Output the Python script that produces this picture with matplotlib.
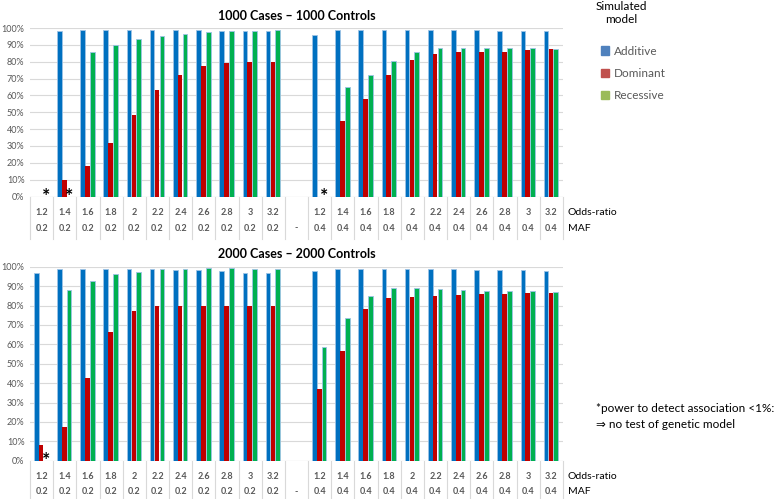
import numpy as np
import matplotlib.pyplot as plt
from matplotlib.patches import Patch

plt.rcParams['font.family'] = ['Lato', 'DejaVu Sans']

odds_ratio = ["1.2", "1.4", "1.6", "1.8", "2", "2.2", "2.4", "2.6", "2.8", "3", "3.2", "",
              "1.2", "1.4", "1.6", "1.8", "2", "2.2", "2.4", "2.6", "2.8", "3", "3.2"]
maf = ["0.2"] * 11 + ["-"] + ["0.4"] * 11

# 1000 cases - 1000 controls (power, %)
add_1000 = [0, 98.5, 99, 99, 99, 99, 99, 99, 98.5, 98.5, 98, 0,
            95.7, 99, 99, 99, 99, 99, 99, 99, 98.5, 98.5, 98]
dom_1000 = [0, 10, 18, 32, 48.5, 63, 72, 77.5, 79.5, 80, 80, 0,
            0, 44.7, 58, 72, 81.3, 84.5, 85.6, 86, 86, 86.8, 87.4]
rec_1000 = [0, 0, 86, 90, 93.5, 95.5, 96.5, 97.5, 98.5, 98.5, 99, 0,
            0, 64.9, 72.4, 80.3, 85.9, 88.4, 88.2, 88.1, 88, 88, 87.4]

# 2000 cases - 2000 controls (power, %)
add_2000 = [96.6, 98.8, 99, 99, 99, 98.7, 98.5, 98.3, 97.7, 97, 96.5, 0,
            97.8, 99, 99, 99, 99, 99, 98.8, 98.5, 98.5, 98.3, 98]
dom_2000 = [8.1, 17.4, 42.5, 66.5, 77.3, 79.7, 80, 80, 80, 80, 80, 0,
            37, 56.5, 78, 83.7, 84.2, 84.7, 85.2, 85.7, 86, 86.5, 86.7]
rec_2000 = [0, 88, 92.6, 96, 97.5, 99, 99, 99.5, 99.5, 99, 99, 0,
            58.8, 73.7, 84.9, 89, 89, 88.5, 88, 87.7, 87.5, 87.5, 87]

# category index marked as not tested (power < 1%)
stars_1000 = [0, 1, 12]
stars_2000 = [0]

c_add, c_dom, c_rec = "#0070C0", "#C00000", "#00B050"
edge = "#9DC3E6"
grey = "#595959"


def panel(ax, add, dom, rec, stars, title, row1, row2, line_bottom, star_y):
    x = np.arange(len(odds_ratio))
    w = 0.2
    ax.bar(x - 0.23, add, w, color=c_add, edgecolor=edge, linewidth=0.6, zorder=3)
    ax.bar(x - 0.02, dom, w, color=c_dom, linewidth=0, zorder=3)
    ax.bar(x + 0.19, rec, w, color=c_rec, edgecolor=edge, linewidth=0.6, zorder=3)
    ax.set_xlim(-0.5, len(x) - 0.5)
    ax.set_ylim(0, 100)
    ax.set_yticks(np.arange(0, 101, 10))
    ax.set_yticklabels([f"{v}%" for v in range(0, 101, 10)])
    ax.tick_params(axis="y", length=0, pad=4, labelsize=6.5, labelcolor=grey)
    ax.set_xticks([])
    ax.grid(axis="y", color="#D9D9D9", linewidth=0.8, zorder=0)
    for s in ax.spines.values():
        s.set_visible(False)
    ax.axhline(0, color="#D9D9D9", linewidth=0.8, zorder=1)
    ax.set_title(title, fontsize=9, fontweight="bold", pad=6)

    trans = ax.get_xaxis_transform()
    for b in np.arange(-0.5, len(x), 1.0):
        ax.plot([b, b], [0, line_bottom], color="#D9D9D9", linewidth=0.8,
                transform=trans, clip_on=False)
    for i in x:
        ax.text(i, row1, odds_ratio[i], transform=trans, ha="center", va="center",
                fontsize=6.5, color=grey, fontweight="bold")
        ax.text(i, row2, maf[i], transform=trans, ha="center", va="center",
                fontsize=6.5, color=grey, fontweight="bold")
    ax.text(len(x) - 0.3, row1, "Odds-ratio", transform=trans, ha="left", va="center",
            fontsize=7.5, color="black")
    ax.text(len(x) - 0.3, row2, "MAF", transform=trans, ha="left", va="center",
            fontsize=7.5, color="black")
    for i in stars:
        ax.text(i + 0.2, star_y, "*", ha="center", va="baseline", fontsize=14,
                fontweight="bold", color="black", zorder=4, clip_on=False)


fig = plt.figure(figsize=(7.79, 4.99), dpi=100)
ax1 = fig.add_axes([30 / 779, 302.5 / 499, 533 / 779, 168.5 / 499])
ax2 = fig.add_axes([30 / 779, 38.3 / 499, 533 / 779, 194 / 499])

panel(ax1, add_1000, dom_1000, rec_1000, stars_1000, "1000 Cases \u2013 1000 Controls",
      -0.092, -0.187, -0.25, -3.0)
panel(ax2, add_2000, dom_2000, rec_2000, stars_2000, "2000 Cases \u2013 2000 Controls",
      -0.084, -0.161, -0.2, -2.6)

fig.text(621 / 779, 1 - 13 / 499, "Simulated\nmodel", ha="center", va="center",
         fontsize=8.5, color="black", linespacing=1.15)
handles = [Patch(color="#4F81BD"), Patch(color="#C0504D"), Patch(color="#9BBB59")]
fig.legend(handles, ["Additive", "Dominant", "Recessive"], loc="upper left",
           bbox_to_anchor=(590 / 779, 1 - 35 / 499), frameon=False, fontsize=8.5,
           labelcolor=grey, handlelength=0.7, handleheight=0.7, handletextpad=0.4,
           labelspacing=0.95)

fig.text(596 / 779, 1 - 408 / 499, "*power to detect association <1%:", ha="left",
         va="center", fontsize=8.5, color="black")
fig.text(596 / 779, 1 - 425 / 499, "\u21d2 no test of genetic model", ha="left",
         va="center", fontsize=8.5, color="black")

fig.savefig("out.png", dpi=100)
